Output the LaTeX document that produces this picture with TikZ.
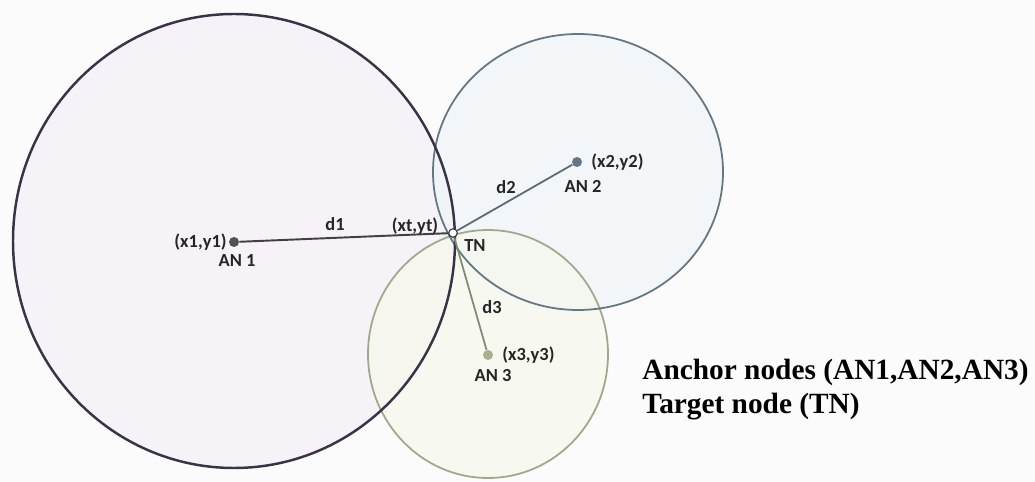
\documentclass[tikz,border=0pt]{standalone}
\usepackage{fontspec}
\setmainfont{Liberation Serif}
\newfontfamily\lblfont{Carlito}
\definecolor{bgc}{HTML}{FBFBFB}
\definecolor{cA}{HTML}{3A3348}
\definecolor{fA}{HTML}{F6F2F7}
\definecolor{cB}{HTML}{627684}
\definecolor{fB}{HTML}{F0F5F8}
\definecolor{cC}{HTML}{A0A88C}
\definecolor{fC}{HTML}{F6F8EC}
\definecolor{dotA}{HTML}{555058}
\definecolor{dotB}{HTML}{66748A}
\definecolor{dotC}{HTML}{A8B090}
\definecolor{lineC}{HTML}{7E8C70}
\tikzset{
  lbl/.style={font=\lblfont\bfseries\fontsize{10.5}{12}\selectfont, text=black!85, inner sep=0pt},
  anchordot/.style={circle, inner sep=0pt, minimum size=0.2cm},
  target/.style={circle, draw=black!80, fill=white, line width=0.6pt, inner sep=0pt, minimum size=0.17cm},
}
\begin{document}
\begin{tikzpicture}[x=0.02cm, y=-0.02cm]
\fill[bgc] (0,0) rectangle (1035,482);
\useasboundingbox (0,0) rectangle (1035,482);
% fills
\fill[fA] (234,241) ellipse [x radius=221, y radius=227];
\fill[fB, fill opacity=0.75] (578,172) ellipse [x radius=145, y radius=138];
\fill[fC, fill opacity=0.75] (488,354) ellipse [x radius=120, y radius=124];
% outlines
\draw[cC, line width=1pt] (488,354) ellipse [x radius=120, y radius=124];
\draw[cB, line width=1pt] (578,172) ellipse [x radius=145, y radius=138];
\draw[cA, line width=1.4pt] (234,241) ellipse [x radius=221, y radius=227];
% nodes
\node[anchordot, fill=dotA] (an1) at (234,242) {};
\node[anchordot, fill=dotB] (an2) at (577,162) {};
\node[anchordot, fill=dotC] (an3) at (488,355) {};
\node[target] (tn) at (453,233) {};
% connectors
\draw[black!75, line width=1.1pt] (an1) -- (tn);
\draw[cB!90!black, line width=1pt] (an2) -- (tn);
\draw[lineC, line width=1pt] (an3) -- (tn);
% labels
\node[lbl, anchor=east] at (227,242) {(x1,y1)};
\node[lbl] at (237,261) {AN 1};
\node[lbl] at (335,224) {d1};
\node[lbl] at (415,226) {(xt,yt)};
\node[lbl] at (475,246) {TN};
\node[lbl] at (506,187) {d2};
\node[lbl, anchor=west] at (591,162) {(x2,y2)};
\node[lbl] at (583,186) {AN 2};
\node[lbl] at (492,307) {d3};
\node[lbl, anchor=west] at (502,355) {(x3,y3)};
\node[lbl] at (493,376) {AN 3};
% legend
\node[anchor=west, align=left, inner sep=0pt, font=\bfseries\fontsize{16.7}{19.3}\selectfont] (legend) at (642,390) {Anchor nodes (AN1,AN2,AN3)\\Target node (TN)};
\end{tikzpicture}
\end{document}
